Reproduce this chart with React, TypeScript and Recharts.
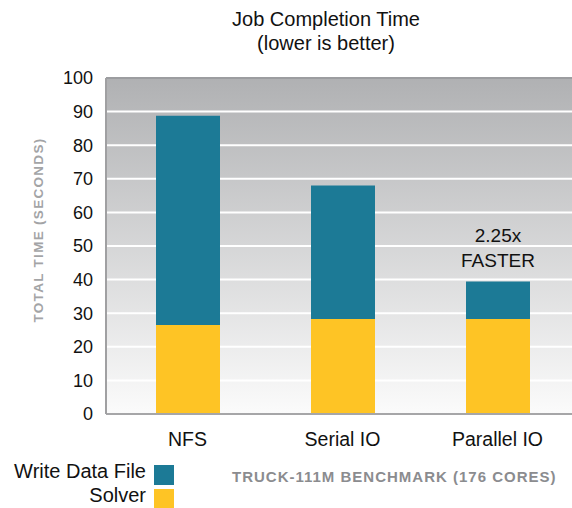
import { Bar, BarChart, CartesianGrid, LabelList, ReferenceLine, XAxis, YAxis } from "recharts";

const categories = ["NFS", "Serial IO", "Parallel IO"];
const solver = [26.5, 28.3, 28.3];
const writeDataFile = [62.3, 39.7, 11.1];
const annotations = ["", "", "2.25x FASTER"];
const yTicks = [0, 10, 20, 30, 40, 50, 60, 70, 80, 90, 100];

const TEAL = "#1c7a96";
const YELLOW = "#fec425";
const FONT = "'Liberation Sans', Arial, Helvetica, sans-serif";

const data = categories.map((name, i) => ({
  name,
  solver: solver[i],
  write: writeDataFile[i],
  note: annotations[i],
}));

function NoteLabel(props: any) {
  const { x, y, width, value } = props;
  if (!value) return null;
  const lines = String(value).split(" ");
  const cx = x + width / 2;
  return (
    <text x={cx} textAnchor="middle" fontFamily={FONT} fontSize={19} fill="#111">
      {lines.map((l, i) => (
        <tspan key={i} x={cx} y={y - 15 - (lines.length - 1 - i) * 25}>
          {l}
        </tspan>
      ))}
    </text>
  );
}

function YTitle() {
  return (
    <text
      x={43}
      y={230}
      transform="rotate(-90 43 230)"
      textAnchor="middle"
      fontFamily={FONT}
      fontWeight="bold"
      fontSize={13.5}
      letterSpacing={1.3}
      fill="#a3a4a6"
    >
      TOTAL TIME (SECONDS)
    </text>
  );
}

export default function App() {
  return (
    <div style={{ position: "relative", width: 572, height: 508, overflow: "hidden", background: "#fff", fontFamily: FONT }}>
      <style>{`body{margin:0}`}</style>
      <div
        style={{
          position: "absolute",
          top: 7,
          left: 216,
          width: 220,
          textAlign: "center",
          fontSize: 20,
          lineHeight: "24px",
          color: "#111",
        }}
      >
        Job Completion Time
        <br />
        (lower is better)
      </div>
      <BarChart width={575} height={508} data={data} margin={{ top: 78, right: 0, left: 0, bottom: 0 }}>
        <defs>
          <linearGradient id="bg" x1="0" y1="0" x2="0" y2="1">
            <stop offset="0%" stopColor="#b0b1b3" />
            <stop offset="100%" stopColor="#fbfbfb" />
          </linearGradient>
        </defs>
        <CartesianGrid vertical={false} stroke="#ffffff" strokeWidth={2} fill="url(#bg)" fillOpacity={1} />
        <XAxis
          dataKey="name"
          height={94}
          padding={{ left: 4, right: 0 }}
          tickSize={0}
          tickMargin={18}
          axisLine={{ stroke: "#a6a6a8", strokeWidth: 2 }}
          tick={{ fill: "#111", fontSize: 19.5, fontFamily: FONT }}
        />
        <YAxis
          width={106}
          domain={[0, 100]}
          ticks={yTicks}
          interval={0}
          tickSize={0}
          tickMargin={13}
          axisLine={{ stroke: "#a0a0a2", strokeWidth: 2 }}
          tick={{ fill: "#111", fontSize: 18, fontFamily: FONT }}
          label={<YTitle />}
        />
        <ReferenceLine y={100} stroke="#9c9da0" strokeWidth={2} />
        <Bar dataKey="solver" stackId="a" fill={YELLOW} barSize={64} isAnimationActive={false} />
        <Bar dataKey="write" stackId="a" fill={TEAL} barSize={64} isAnimationActive={false}>
          <LabelList dataKey="note" content={<NoteLabel />} />
        </Bar>
      </BarChart>
      <div style={{ position: "absolute", top: 460, right: 572 - 146, fontSize: 20, color: "#111", whiteSpace: "nowrap" }}>
        Write Data File
      </div>
      <div style={{ position: "absolute", top: 484, right: 572 - 146, fontSize: 20, color: "#111", whiteSpace: "nowrap" }}>
        Solver
      </div>
      <div style={{ position: "absolute", top: 465, left: 154, width: 20, height: 20, background: TEAL }} />
      <div style={{ position: "absolute", top: 489, left: 154, width: 20, height: 19, background: YELLOW }} />
      <div
        style={{
          position: "absolute",
          top: 468,
          left: 232,
          fontSize: 15,
          fontWeight: "bold",
          letterSpacing: 1,
          color: "#8b8c8f",
          whiteSpace: "nowrap",
        }}
      >
        TRUCK-111M BENCHMARK (176 CORES)
      </div>
    </div>
  );
}
